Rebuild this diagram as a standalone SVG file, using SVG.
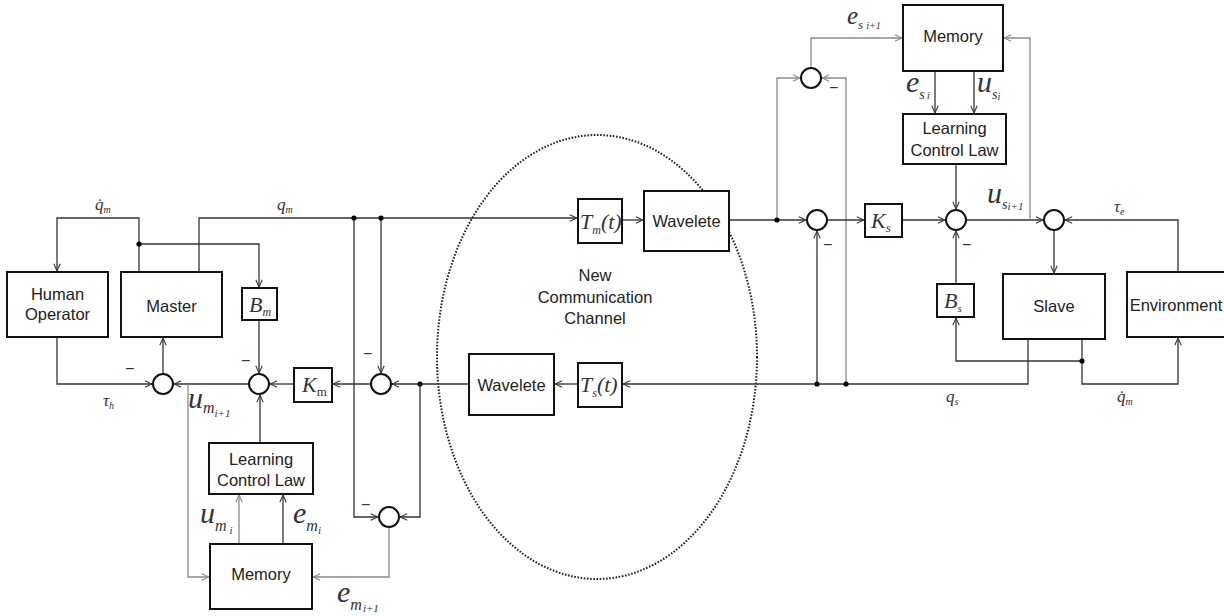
<svg xmlns="http://www.w3.org/2000/svg" width="1224" height="616" viewBox="0 0 1224 616">
<style>
.box{fill:#fff;stroke:#111;stroke-width:2}
.sum{fill:#fff;stroke:#111;stroke-width:2}
.ln{fill:none;stroke:#333;stroke-width:1.3}
.gl{fill:none;stroke:#8a8a8a;stroke-width:1.3}
.t{font-family:"Liberation Sans",Arial,sans-serif;font-size:16.5px;fill:#222;text-anchor:middle}
.m{font-family:"Liberation Serif","Times New Roman",serif;font-style:italic;fill:#333}
.mi{font-family:"Liberation Sans",Arial,sans-serif;font-size:16px;fill:#333}
.dot{fill:#000}
</style>
<defs>
<marker id="a" viewBox="0 0 10 10" refX="10" refY="5" markerWidth="8" markerHeight="8" markerUnits="userSpaceOnUse" orient="auto">
<path d="M1,1 L10,5 L1,9" fill="none" stroke="#333" stroke-width="1.3"/>
</marker>
<marker id="ag" viewBox="0 0 10 10" refX="10" refY="5" markerWidth="8" markerHeight="8" markerUnits="userSpaceOnUse" orient="auto">
<path d="M1,1 L10,5 L1,9" fill="none" stroke="#8a8a8a" stroke-width="1.3"/>
</marker>
</defs>
<rect width="1224" height="616" fill="#fff"/>
<ellipse cx="597" cy="357" rx="160" ry="222" fill="none" stroke="#222" stroke-width="2" stroke-dasharray="1.6 1.6"/>
<g id="connectors">
<path class="ln" d="M139,272 V218 H57 V271" marker-end="url(#a)"/>
<path class="ln" d="M139,244 H259 V287" marker-end="url(#a)"/>
<path class="ln" d="M199,272 V218 H577" marker-end="url(#a)"/>
<path class="ln" d="M381,218 V373" marker-end="url(#a)"/>
<path class="ln" d="M57,337 V384 H152" marker-end="url(#a)"/>
<path class="ln" d="M163,374 V338" marker-end="url(#a)"/>
<path class="ln" d="M249,384 H174" marker-end="url(#a)"/>
<path class="ln" d="M259,320 V373" marker-end="url(#a)"/>
<path class="ln" d="M294,384 H270" marker-end="url(#a)"/>
<path class="ln" d="M371,384 H333" marker-end="url(#a)"/>
<path class="ln" d="M469,384 H392" marker-end="url(#a)"/>
<path class="ln" d="M420,384 V517 H400" marker-end="url(#a)"/>
<path class="ln" d="M354,218 V517 H378" marker-end="url(#a)"/>
<path class="gl" d="M389,527 V577 H313" marker-end="url(#ag)"/>
<path class="gl" d="M188,384 V577 H209" marker-end="url(#ag)"/>
<path class="gl" d="M239,544 V495" marker-end="url(#ag)"/>
<path class="ln" d="M283,544 V495" marker-end="url(#a)"/>
<path class="ln" d="M260,443 V395" marker-end="url(#a)"/>
<path class="ln" d="M622,220 H643" marker-end="url(#a)"/>
<path class="ln" d="M729,220 H806" marker-end="url(#a)"/>
<path class="ln" d="M1028,339 V384 H623" marker-end="url(#a)"/>
<path class="ln" d="M578,384 H555" marker-end="url(#a)"/>
<path class="gl" d="M777,220 V78 H800" marker-end="url(#ag)"/>
<path class="gl" d="M811,68 V38 H902" marker-end="url(#ag)"/>
<path class="gl" d="M846,384 V78 H822" marker-end="url(#ag)"/>
<path class="ln" d="M817,384 V231" marker-end="url(#a)"/>
<path class="ln" d="M827,220 H864" marker-end="url(#a)"/>
<path class="ln" d="M902,220 H945" marker-end="url(#a)"/>
<path class="ln" d="M935,71 V113" marker-end="url(#a)"/>
<path class="ln" d="M974,71 V113" marker-end="url(#a)"/>
<path class="ln" d="M956,164 V209" marker-end="url(#a)"/>
<path class="ln" d="M966,220 H1043" marker-end="url(#a)"/>
<path class="gl" d="M1030,220 V38 H1004" marker-end="url(#ag)"/>
<path class="ln" d="M1054,230 V273" marker-end="url(#a)"/>
<path class="ln" d="M1178,272 V220 H1065" marker-end="url(#a)"/>
<path class="ln" d="M956,284 V231" marker-end="url(#a)"/>
<path class="ln" d="M1082,339 V361 H956 V318" marker-end="url(#a)"/>
<path class="ln" d="M1082,361 V384 H1178 V338" marker-end="url(#a)"/>
<circle class="dot" cx="139" cy="244" r="2.6"/>
<circle class="dot" cx="354" cy="218" r="2.6"/>
<circle class="dot" cx="381" cy="218" r="2.6"/>
<circle class="dot" cx="420" cy="384" r="2.6"/>
<circle class="dot" cx="777" cy="220" r="2.6"/>
<circle class="dot" cx="817" cy="384" r="2.6"/>
<circle class="dot" cx="846" cy="384" r="2.6"/>
<circle class="dot" cx="1082" cy="361" r="2.6"/>
</g>
<g id="sums">
<circle class="sum" cx="163" cy="384" r="10"/>
<circle class="sum" cx="259" cy="384" r="10"/>
<circle class="sum" cx="381" cy="384" r="10"/>
<circle class="sum" cx="389" cy="517" r="10"/>
<circle class="sum" cx="817" cy="220" r="10"/>
<circle class="sum" cx="811" cy="78" r="10"/>
<circle class="sum" cx="956" cy="220" r="10"/>
<circle class="sum" cx="1054" cy="220" r="10"/>
</g>
<g id="minus" class="mi">
<text x="125" y="374">−</text>
<text x="241" y="366">−</text>
<text x="363" y="359">−</text>
<text x="361" y="510">−</text>
<text x="823" y="250">−</text>
<text x="829" y="93">−</text>
<text x="962" y="250">−</text>
</g>
<g id="human-operator"><rect class="box" x="7" y="272" width="101" height="65"/><text class="t" x="57.5" y="300">Human</text><text class="t" x="57.5" y="320">Operator</text></g>
<g id="master"><rect class="box" x="121" y="272" width="101" height="65"/><text class="t" x="171.5" y="312">Master</text></g>
<g id="bm"><rect class="box" x="242" y="288" width="35" height="32"/><text class="m" x="249" y="312" font-size="22">B<tspan font-size="12" dy="4">m</tspan></text></g>
<g id="km"><rect class="box" x="294" y="368" width="38" height="34"/><text class="m" x="302" y="392" font-size="22">K<tspan font-size="13" dy="4" font-style="normal">m</tspan></text></g>
<g id="lcl-m"><rect class="box" x="209" y="443" width="104" height="51"/><text class="t" x="261" y="465">Learning</text><text class="t" x="261" y="486">Control Law</text></g>
<g id="memory-m"><rect class="box" x="210" y="544" width="102" height="65"/><text class="t" x="261" y="580">Memory</text></g>
<g id="tm"><rect class="box" x="578" y="199" width="44" height="44"/><text class="m" x="580" y="229" font-size="22">T<tspan font-size="12" dy="5">m</tspan><tspan font-size="22" dy="-5">(t)</tspan></text></g>
<g id="wavelete-up"><rect class="box" x="644" y="191" width="85" height="60"/><text class="t" x="686.5" y="227">Wavelete</text></g>
<g id="ts"><rect class="box" x="578" y="363" width="44" height="44"/><text class="m" x="580" y="392" font-size="22">T<tspan font-size="12" dy="5">s</tspan><tspan font-size="22" dy="-5">(t)</tspan></text></g>
<g id="wavelete-low"><rect class="box" x="469" y="354" width="85" height="61"/><text class="t" x="511.5" y="391">Wavelete</text></g>
<g id="channel-label"><text class="t" x="595" y="281" font-size="15.5">New</text><text class="t" x="595" y="303" font-size="15.5">Communication</text><text class="t" x="595" y="324" font-size="15.5">Channel</text></g>
<g id="ks"><rect class="box" x="865" y="204" width="37" height="33"/><text class="m" x="871" y="228" font-size="22">K<tspan font-size="13" dy="4">s</tspan></text></g>
<g id="memory-s"><rect class="box" x="903" y="5" width="100" height="66"/><text class="t" x="953" y="42">Memory</text></g>
<g id="lcl-s"><rect class="box" x="903" y="114" width="103" height="50"/><text class="t" x="954.5" y="134">Learning</text><text class="t" x="954.5" y="156">Control Law</text></g>
<g id="bs"><rect class="box" x="937" y="284" width="37" height="33"/><text class="m" x="944" y="308" font-size="22">B<tspan font-size="11" dy="4">s</tspan></text></g>
<g id="slave"><rect class="box" x="1003" y="274" width="102" height="65"/><text class="t" x="1054" y="312">Slave</text></g>
<g id="environment"><rect class="box" x="1127" y="272" width="102" height="65"/><text class="t" x="1176" y="311">Environment</text></g>
<g id="labels" class="m">
<text x="95" y="210" font-size="17">q̇<tspan font-size="10" dy="3">m</tspan></text>
<text x="277" y="210" font-size="17">q<tspan font-size="10" dy="3">m</tspan></text>
<text x="103" y="406" font-size="17">τ<tspan font-size="10" dy="3">h</tspan></text>
<text x="188" y="408" font-size="30">u<tspan font-size="16" dy="5">m</tspan><tspan font-size="11" dy="4">i+1</tspan></text>
<text x="200" y="523" font-size="30">u<tspan font-size="16" dy="8">m</tspan><tspan font-size="11" dy="3" dx="3">i</tspan></text>
<text x="293" y="523" font-size="30">e<tspan font-size="16" dy="8">m</tspan><tspan font-size="11" dy="3">i</tspan></text>
<text x="337" y="602" font-size="30">e<tspan font-size="16" dy="8">m</tspan><tspan font-size="11" dy="2" dx="1">i+1</tspan></text>
<text x="847" y="24" font-size="25">e<tspan font-size="13" dy="5">s</tspan><tspan font-size="10" dx="3">i+1</tspan></text>
<text x="906" y="92" font-size="30">e<tspan font-size="14" dy="7">s</tspan><tspan font-size="11" dx="2">i</tspan></text>
<text x="977" y="92" font-size="30">u<tspan font-size="14" dy="7">s</tspan><tspan font-size="10" dy="1">i</tspan></text>
<text x="987" y="203" font-size="30">u<tspan font-size="14" dy="6">s</tspan><tspan font-size="11" dy="1">i+1</tspan></text>
<text x="1114" y="212" font-size="17">τ<tspan font-size="10" dy="3">e</tspan></text>
<text x="946" y="402" font-size="17">q<tspan font-size="10" dy="3">s</tspan></text>
<text x="1117" y="402" font-size="17">q̇<tspan font-size="10" dy="3">m</tspan></text>
</g>
</svg>
